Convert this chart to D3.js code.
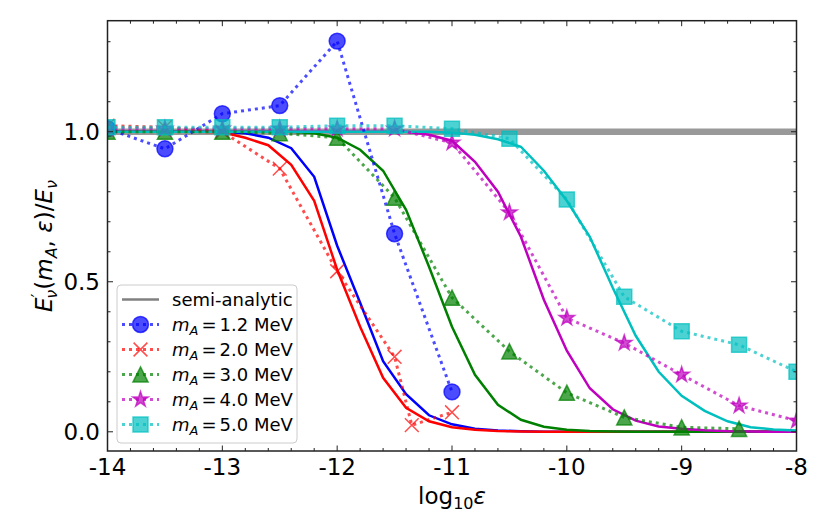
<!DOCTYPE html>
<html lang="en">
<head>
<meta charset="UTF-8">
<script src="https://d3js.org/d3.v7.min.js"></script>
<style>
  body { margin: 0; background: #fff; }
  svg { font-family: 'DejaVu Sans', sans-serif; }
</style>
</head>
<body>
<svg width="830" height="519"></svg>
<script>
// semi-analytic curves, sampled every 0.2 in log10(eps)
const gridX = [-14, -13.8, -13.6, -13.4, -13.2, -13, -12.8, -12.6, -12.4, -12.2, -12,
  -11.8, -11.6, -11.4, -11.2, -11, -10.8, -10.6, -10.4, -10.2, -10,
  -9.8, -9.6, -9.4, -9.2, -9, -8.8, -8.6, -8.4, -8.2, -8];
const semi12 = [1, 1, 1, 1, 1, 1, 0.995, 0.98, 0.945, 0.85, 0.62, 0.43, 0.235, 0.125, 0.055, 0.025,
  0.01, 0.004, 0.002, 0, 0, 0, 0, 0, 0, 0, 0, 0, 0, 0, 0];
const semi20 = [1, 1, 1, 1, 1, 0.998, 0.98, 0.955, 0.89, 0.77, 0.54, 0.35, 0.18, 0.08, 0.035, 0.015,
  0.007, 0.003, 0.001, 0, 0, 0, 0, 0, 0, 0, 0, 0, 0, 0, 0];
const semi30 = [1, 1, 1, 1, 1, 1, 1, 1, 1, 0.995, 0.98, 0.94, 0.87, 0.74, 0.55, 0.35,
  0.19, 0.09, 0.04, 0.017, 0.007, 0.003, 0.001, 0, 0, 0, 0, 0, 0, 0, 0];
const semi40 = [1, 1, 1, 1, 1, 1, 1, 1, 1, 1, 1, 1, 1, 1, 0.99, 0.97,
  0.9, 0.8, 0.65, 0.44, 0.27, 0.145, 0.075, 0.037, 0.018, 0.01, 0.005, 0.002, 0.001, 0, 0];
const semi50 = [1, 1, 1, 1, 1, 1, 1, 1, 1, 1, 1, 1, 1, 1, 1, 0.997,
  0.99, 0.975, 0.95, 0.87, 0.77, 0.65, 0.48, 0.32, 0.2, 0.12, 0.07, 0.035, 0.015, 0.008, 0.004];

// simulation points
const simX12 = [-14, -13.5, -13, -12.5, -12, -11.5, -11];
const simY12 = [1.01, 0.943, 1.06, 1.087, 1.302, 0.66, 0.133];
const simX20 = [-14, -13.5, -13, -12.5, -12, -11.5, -11.35, -11];
const simY20 = [1.02, 1.015, 1.0, 0.877, 0.535, 0.25, 0.022, 0.065];
const simX30 = [-14, -13.5, -13, -12.5, -12, -11.5, -11, -10.5, -10, -9.5, -9, -8.5];
const simY30 = [1.0, 1.0, 1.0, 0.995, 0.98, 0.78, 0.447, 0.268, 0.13, 0.048, 0.015, 0.01];
const simX40 = [-14, -13.5, -13, -12.5, -12, -11.5, -11, -10.5, -10, -9.5, -9, -8.5, -8];
const simY40 = [1.01, 1.01, 1.01, 1.01, 1.01, 1.01, 0.963, 0.731, 0.379, 0.296, 0.19, 0.087, 0.037];
const simX50 = [-14, -13.5, -13, -12.5, -12, -11.5, -11, -10.5, -10, -9.5, -9, -8.5, -8];
const simY50 = [1.015, 1.015, 1.015, 1.015, 1.02, 1.02, 1.01, 0.977, 0.774, 0.45, 0.335, 0.29, 0.2];

const masses = ["1.2", "2.0", "3.0", "4.0", "5.0"];
const colors = ["#0000ff", "#ff0000", "#008000", "#bf00bf", "#00bfbf"];
const markers = ["circle", "x", "triangle", "star", "square"];
const xTicks = [-14, -13, -12, -11, -10, -9, -8];
const yTicks = [0, 0.5, 1.0];

const series = masses.map((m, i) => ({
  mass: m, color: colors[i], marker: markers[i],
  semi: gridX.map((x, j) => [x, [semi12, semi20, semi30, semi40, semi50][i][j]]),
  sim: [simX12, simX20, simX30, simX40, simX50][i].map((x, j) => [x, [simY12, simY20, simY30, simY40, simY50][i][j]])
}));

const L = 107.5, R = 796.5, T = 20.7, B = 451;
const x = d3.scaleLinear().domain([-14, -8]).range([L, R]);
const y = d3.scaleLinear().domain([-0.064, 1.37]).range([B, T]);

const svg = d3.select("svg");
svg.append("defs").append("clipPath").attr("id", "clip")
  .append("rect").attr("x", L).attr("y", T).attr("width", R - L).attr("height", B - T);

// marker shapes (matplotlib-like)
const shapes = {
  circle: { draw(c, s) { const r = Math.sqrt(s / Math.PI); c.moveTo(r, 0); c.arc(0, 0, r, 0, 2 * Math.PI); } },
  square: { draw(c, s) { const h = Math.sqrt(s) / 2; c.rect(-h, -h, 2 * h, 2 * h); } },
  triangle: { draw(c, s) { const h = Math.sqrt(s) / 2; c.moveTo(0, -h); c.lineTo(h, h); c.lineTo(-h, h); c.closePath(); } },
  x: { draw(c, s) { const h = Math.sqrt(s) / 2; c.moveTo(-h, -h); c.lineTo(h, h); c.moveTo(h, -h); c.lineTo(-h, h); } },
  star: { draw(c, s) {
    const ro = Math.sqrt(s) / 2 * 1.15, ri = ro * 0.382;
    for (let k = 0; k < 10; k++) {
      const r = k % 2 ? ri : ro, a = -Math.PI / 2 + k * Math.PI / 5;
      k ? c.lineTo(r * Math.cos(a), r * Math.sin(a)) : c.moveTo(r * Math.cos(a), r * Math.sin(a));
    }
    c.closePath();
  } }
};
const sizes = { circle: 200, square: 225, triangle: 230, x: 190, star: 200 };

function drawMarker(sel, d, kind, color) {
  const p = sel.append("path")
    .attr("d", d3.symbol().type(shapes[kind]).size(sizes[kind])())
    .attr("stroke", color).attr("stroke-opacity", 0.7);
  if (kind === "x") p.attr("fill", "none").attr("stroke-width", 1.5);
  else p.attr("fill", color).attr("fill-opacity", 0.7).attr("stroke-width", 1.5);
  return p;
}

const plot = svg.append("g").attr("clip-path", "url(#clip)");

// thick reference line at unity
plot.append("line")
  .attr("x1", L).attr("x2", R).attr("y1", y(1)).attr("y2", y(1))
  .attr("stroke", "#999").attr("stroke-width", 6.5);

const line = d3.line().x(d => x(d[0])).y(d => y(d[1]));

series.forEach(s => {
  plot.append("path").datum(s.semi)
    .attr("d", line).attr("fill", "none")
    .attr("stroke", s.color).attr("stroke-width", 2.5);
});
series.forEach(s => {
  plot.append("path").datum(s.sim)
    .attr("d", line).attr("fill", "none")
    .attr("stroke", s.color).attr("stroke-opacity", 0.7)
    .attr("stroke-width", 3).attr("stroke-dasharray", "3,4");
  s.sim.forEach(p => {
    const g = plot.append("g").attr("transform", `translate(${x(p[0])},${y(p[1])})`);
    drawMarker(g, p, s.marker, s.color);
  });
});

// ticks (inward, all four sides)
const ax = svg.append("g").attr("stroke", "#222").attr("stroke-width", 1);
const xMinor = d3.range(-14, -7.99, 0.2);
const yMinor = d3.range(0, 1.31, 0.1);
xMinor.forEach(v => {
  const major = xTicks.some(t => Math.abs(t - v) < 1e-6), len = major ? 5.5 : 3;
  ax.append("line").attr("x1", x(v)).attr("x2", x(v)).attr("y1", B).attr("y2", B - len);
  ax.append("line").attr("x1", x(v)).attr("x2", x(v)).attr("y1", T).attr("y2", T + len);
});
yMinor.forEach(v => {
  const major = yTicks.some(t => Math.abs(t - v) < 1e-6), len = major ? 5.5 : 3;
  ax.append("line").attr("y1", y(v)).attr("y2", y(v)).attr("x1", L).attr("x2", L + len);
  ax.append("line").attr("y1", y(v)).attr("y2", y(v)).attr("x1", R).attr("x2", R - len);
});
svg.append("rect").attr("x", L).attr("y", T).attr("width", R - L).attr("height", B - T)
  .attr("fill", "none").attr("stroke", "#222").attr("stroke-width", 1.5);

svg.selectAll("text.xt").data(xTicks).join("text")
  .attr("x", d => x(d)).attr("y", 475).attr("text-anchor", "middle")
  .attr("font-size", 23).attr("fill", "#000").text(d => d);
svg.selectAll("text.yt").data(yTicks).join("text")
  .attr("x", 100).attr("y", d => y(d) + 8.3).attr("text-anchor", "end")
  .attr("font-size", 23).attr("fill", "#000").text(d => d.toFixed(1));

// x label: log10 eps
const xl = svg.append("text").attr("x", x(-11)).attr("y", 504)
  .attr("text-anchor", "middle").attr("font-size", 23);
xl.append("tspan").text("log");
xl.append("tspan").attr("font-size", 16).attr("dy", 5).text("10");
xl.append("tspan").attr("font-style", "italic").attr("dy", -5).text("ε");

// y label: E'_nu(m_A, eps)/E_nu
const yl = svg.append("text").attr("transform", "translate(52,246) rotate(-90)")
  .attr("text-anchor", "middle").attr("font-size", 23);
yl.append("tspan").attr("font-style", "italic").text("E");
yl.append("tspan").attr("font-size", 16).attr("dy", -9).text("′");
yl.append("tspan").attr("font-size", 16).attr("font-style", "italic").attr("dx", -5).attr("dy", 14).text("ν");
yl.append("tspan").attr("dy", -5).text("(");
yl.append("tspan").attr("font-style", "italic").text("m");
yl.append("tspan").attr("font-size", 16).attr("font-style", "italic").attr("dy", 5).text("A");
yl.append("tspan").attr("dy", -5).text(", ");
yl.append("tspan").attr("font-style", "italic").text("ε");
yl.append("tspan").text(")/");
yl.append("tspan").attr("font-style", "italic").text("E");
yl.append("tspan").attr("font-size", 16).attr("font-style", "italic").attr("dy", 5).text("ν");

// legend
const lg = svg.append("g");
lg.append("rect").attr("x", 117).attr("y", 285).attr("width", 180).attr("height", 158)
  .attr("rx", 4).attr("fill", "#fff").attr("fill-opacity", 0.8)
  .attr("stroke", "#ccc").attr("stroke-width", 1);
const rowY = i => 299.5 + i * 25;
lg.append("line").attr("x1", 122).attr("x2", 159).attr("y1", rowY(0)).attr("y2", rowY(0))
  .attr("stroke", "#808080").attr("stroke-width", 2.5);
lg.append("text").attr("x", 172).attr("y", rowY(0) + 6.5).attr("font-size", 18).text("semi-analytic");
series.forEach((s, i) => {
  const yy = rowY(i + 1);
  lg.append("line").attr("x1", 122).attr("x2", 159).attr("y1", yy).attr("y2", yy)
    .attr("stroke", s.color).attr("stroke-opacity", 0.7)
    .attr("stroke-width", 3).attr("stroke-dasharray", "3,4");
  drawMarker(lg.append("g").attr("transform", `translate(140.5,${yy})`), null, s.marker, s.color);
  const t = lg.append("text").attr("x", 172).attr("y", yy + 6.5).attr("font-size", 18);
  t.append("tspan").attr("font-style", "italic").text("m");
  t.append("tspan").attr("font-style", "italic").attr("font-size", 13).attr("dy", 4).text("A");
  t.append("tspan").attr("dy", -4).attr("dx", 3).text("=");
  t.append("tspan").attr("dx", 3).text(s.mass + " MeV");
});
</script>
</body>
</html>
